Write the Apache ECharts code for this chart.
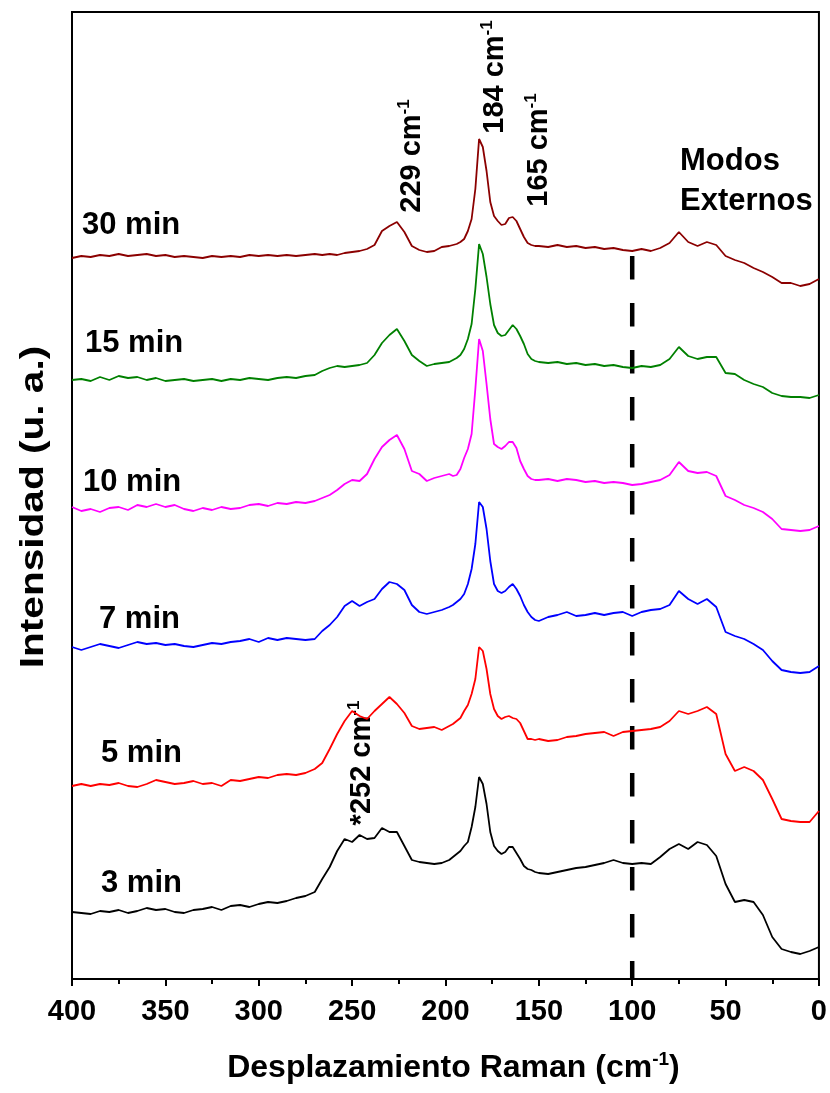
<!DOCTYPE html>
<html>
<head>
<meta charset="utf-8">
<script src="https://cdn.jsdelivr.net/npm/echarts@6/dist/echarts.min.js"></script>
<style>
  html, body { margin: 0; padding: 0; background: #fff; }
  #chart { width: 830px; height: 1093px; }
</style>
</head>
<body>
<div id="chart"></div>
<script>
// Raman shift (cm-1), shared by every spectrum
const wavenumbers = [
  400,395,390,385,380,375,370,365,360,355,350,345,340,335,330,325,320,315,310,305,300,295,290,285,280,275,270,
  266,262,258,254,250,246,242,238,234,230,226,222,218,214,210,206,202,198,
  196,194,192,190,188,186,184,182,180,178,176,174,172,170,168,166,164,162,160,158,156,154,152,150,
  145,140,135,130,125,120,115,110,105,100,95,90,85,80,75,70,65,60,55,50,45,40,35,30,25,20,15,10,5,0
];

// Intensities (a.u.) of each spectrum before stacking
const int3min = [
  47,46,45,48,47,49,46,48,51,49,50,47,46,49,50,52,49,53,54,52,55,57,56,58,61,63,67,
  80,92,108,120,117,124,120,121,131,127,127,113,99,97,96,95,96,99,
  102,105,108,113,117,132,152,182,175,155,127,113,108,105,107,112,112,106,100,93,90,89,87,86,
  85,87,89,91,92,94,96,99,96,95,96,95,102,110,115,110,117,114,103,75,57,59,57,44,22,10,7,5,8,12
];
const int5min = [
  48,50,48,50,49,51,48,47,50,54,52,50,51,53,50,51,48,54,53,55,57,56,59,60,59,61,65,
  71,85,100,113,123,118,115,123,130,137,130,121,108,105,106,107,104,108,
  110,113,116,123,129,140,155,187,183,165,140,125,118,115,117,118,116,115,111,103,95,95,94,95,
  93,94,97,98,100,101,102,98,102,103,104,105,107,113,123,120,123,127,120,80,63,67,63,54,35,15,13,12,12,23
];
const int7min = [
  37,34,37,40,38,36,39,42,40,41,39,40,38,37,39,41,40,42,43,45,42,46,44,46,45,44,45,
  53,59,67,78,83,78,82,85,95,102,100,94,79,72,70,72,74,77,
  79,82,85,90,100,115,140,182,177,155,123,100,93,91,93,97,100,95,88,79,72,67,64,63,
  67,69,72,68,69,71,69,71,72,68,72,74,75,79,93,85,80,85,77,52,48,45,40,34,23,14,12,11,12,18
];
const int10min = [
  37,33,35,32,36,37,34,39,37,40,37,39,35,33,36,34,37,35,36,39,40,38,41,40,42,41,43,
  46,49,54,60,64,63,70,85,97,104,109,95,73,70,63,66,68,70,
  68,69,75,86,95,110,155,205,193,160,125,100,97,95,98,102,102,96,83,75,68,65,64,64,
  65,63,65,64,62,63,61,62,61,59,60,62,64,69,82,73,71,72,68,48,44,39,36,32,25,15,14,13,14,18
];
const int15min = [
  29,30,28,32,29,33,31,32,29,31,28,29,30,28,29,30,28,30,29,31,30,29,31,32,31,33,34,
  38,41,43,42,43,44,46,54,66,74,80,68,54,48,43,45,46,47,
  49,51,54,60,70,85,120,165,155,132,105,84,76,73,74,79,84,80,73,65,55,50,48,47,
  46,47,45,46,44,45,43,44,42,41,43,42,44,50,62,53,50,52,52,36,35,29,25,22,16,13,12,12,11,14
];
const int30min = [
  41,43,42,44,43,45,43,44,45,43,44,42,43,42,41,43,42,43,42,44,43,44,43,44,43,44,45,
  44,45,44,46,47,48,50,54,68,73,77,67,53,49,47,48,52,53,
  54,55,57,60,68,80,110,160,152,128,97,83,78,74,75,81,82,78,70,62,56,54,53,53,
  52,54,52,53,51,52,50,51,49,48,50,48,51,56,67,57,53,57,54,43,39,36,31,27,22,16,16,13,15,20
];

const spectrumNames = ['3 min', '5 min', '7 min', '10 min', '15 min', '30 min'];
const spectrumIntensities = [int3min, int5min, int7min, int10min, int15min, int30min];
// vertical offsets used to stack the spectra
const stackOffsets = [20, 145, 295, 435, 570, 680];

// boundary between internal and external modes
const boundaryShift = [100];
const boundaryTop = [723];

const colors = ['#000000', '#ff0000', '#0000ff', '#ff00ff', '#008000', '#8b0000'];
const FONT = "'Liberation Sans', Arial, Helvetica, sans-serif";

const chart = echarts.init(document.getElementById('chart'), null, { renderer: 'canvas' });

const series = spectrumNames.map((name, k) => ({
  name: name,
  type: 'line',
  data: wavenumbers.map((w, i) => [w, spectrumIntensities[k][i] + stackOffsets[k]]),
  showSymbol: false,
  symbol: 'none',
  smooth: false,
  lineStyle: { color: colors[k], width: 1.8 },
  itemStyle: { color: colors[k] },
  silent: true,
  animation: false,
  z: 3
}));

series.push({
  name: 'boundary',
  type: 'line',
  data: [[boundaryShift[0], boundaryTop[0]], [boundaryShift[0], 0]],
  showSymbol: false,
  symbol: 'none',
  lineStyle: { color: '#000', width: 4.5, type: [23.5, 23.5], cap: 'butt' },
  silent: true,
  animation: false,
  z: 2
});

const supRich = (size) => ({
  t: { fontSize: size, fontWeight: 'bold', fontFamily: FONT, color: '#000', lineHeight: size + 4 },
  s: { fontSize: Math.round(size * 0.58), fontWeight: 'bold', fontFamily: FONT, color: '#000', verticalAlign: 'top', lineHeight: size + 4 }
});

function label(text, x, y) {
  return {
    type: 'text', x: x, y: y, silent: true,
    style: { text: text, fill: '#000', fontSize: 31, fontWeight: 'bold', fontFamily: FONT, align: 'left', verticalAlign: 'middle' }
  };
}
function peakLabel(text, x, y) {
  return {
    type: 'text', x: x, y: y, rotation: Math.PI / 2, silent: true,
    style: { text: text, rich: supRich(29), align: 'center', verticalAlign: 'middle' }
  };
}

const option = {
  backgroundColor: '#fff',
  animation: false,
  grid: { left: 72, right: 11, top: 12, bottom: 114, show: true, borderColor: '#000', borderWidth: 2, containLabel: false },
  xAxis: {
    type: 'value',
    inverse: true,
    min: 0, max: 400, interval: 50,
    axisLine: { show: true, onZero: false, lineStyle: { color: '#000', width: 2 } },
    axisTick: { show: true, length: 7, lineStyle: { color: '#000', width: 2 } },
    minorTick: { show: true, splitNumber: 2, length: 5, lineStyle: { color: '#000', width: 2 } },
    splitLine: { show: false },
    axisLabel: { color: '#000', fontSize: 29, fontWeight: 'bold', fontFamily: FONT, margin: 18 },
    name: '{t|Desplazamiento Raman (cm}{s|-1}{t|)}',
    nameLocation: 'middle',
    nameGap: 71,
    nameTextStyle: { rich: supRich(32), padding: [0, 0, 0, 16] }
  },
  yAxis: {
    type: 'value',
    min: 0, max: 967,
    axisLine: { show: false },
    axisTick: { show: false },
    axisLabel: { show: false },
    splitLine: { show: false }
  },
  series: series,
  graphic: [
    // vertical axis title, stretched along its reading direction
    {
      type: 'text', x: 34, y: 507, rotation: Math.PI / 2, scaleX: 1.23, scaleY: 1, silent: true,
      style: { text: 'Intensidad (u. a.)', fill: '#000', fontSize: 33, fontWeight: 'bold', fontFamily: FONT, align: 'center', verticalAlign: 'middle' }
    },
    label('30 min', 82, 225),
    label('15 min', 85, 343),
    label('10 min', 83, 482),
    label('7 min', 99, 619),
    label('5 min', 101, 753),
    label('3 min', 101, 883),
    peakLabel('{t|229 cm}{s|-1}', 412, 156),
    peakLabel('{t|184 cm}{s|-1}', 495, 77),
    peakLabel('{t|165 cm}{s|-1}', 539, 150),
    peakLabel('{t|*252 cm}{s|-1}', 362, 763),
    label('Modos', 680, 161),
    label('Externos', 680, 201)
  ]
};

chart.setOption(option);
</script>
</body>
</html>
